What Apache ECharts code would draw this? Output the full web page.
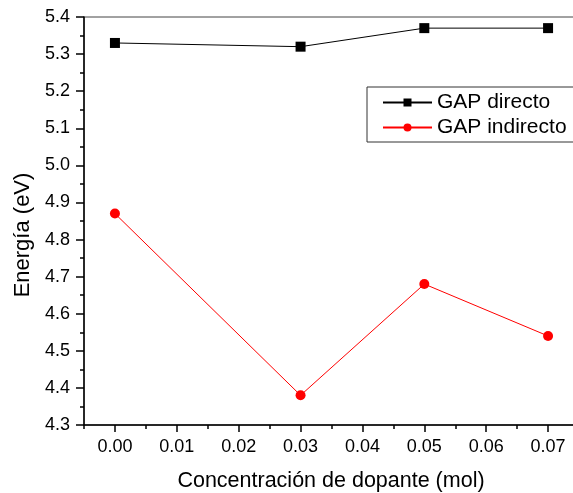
<!DOCTYPE html>
<html>
<head>
<meta charset="utf-8">
<script src="https://cdn.jsdelivr.net/npm/echarts@6/dist/echarts.min.js"></script>
<style>
  html, body { margin: 0; padding: 0; background: #fff; }
  #chart { width: 573px; height: 493px; }
</style>
</head>
<body>
<div id="chart"></div>
<script>
// Dopant concentration (mol) and band-gap energies (eV)
const concentracion = [0.00, 0.03, 0.05, 0.07];
const gapDirecto = [5.33, 5.32, 5.37, 5.37];
const gapIndirecto = [4.87, 4.38, 4.68, 4.54];
const seriesNames = ['GAP directo', 'GAP indirecto'];

const FONT = 'Arial, "Liberation Sans", sans-serif';

const toPairs = (xs, ys) => xs.map((x, i) => [x, ys[i]]);

const chart = echarts.init(document.getElementById('chart'), null, { renderer: 'canvas' });

chart.setOption({
  backgroundColor: '#ffffff',
  animation: false,
  grid: [
    // main plotting area (right edge runs past the canvas)
    { left: 84, top: 17, bottom: 68, width: 495, outerBoundsMode: 'none', containLabel: false,
      show: true, borderColor: '#444', borderWidth: 1, backgroundColor: 'transparent' },
    // overlay carrying the labelled major ticks of the concentration axis
    { left: 115, top: 17, bottom: 68, width: 433, outerBoundsMode: 'none', containLabel: false, show: false }
  ],
  legend: {
    orient: 'vertical',
    left: 367,
    top: 87,
    padding: [5, 30, 4, 15],
    itemGap: 4,
    itemWidth: 49,
    itemHeight: 10,
    borderColor: '#333',
    borderWidth: 1,
    backgroundColor: '#fff',
    textStyle: { fontFamily: FONT, fontSize: 21, color: '#000' },
    data: seriesNames
  },
  xAxis: [
    {
      type: 'value',
      gridIndex: 0,
      min: -0.005,
      max: 0.075,
      interval: 0.005,
      axisLine: { show: true, onZero: false, lineStyle: { color: '#000', width: 1.5 } },
      axisTick: { show: true, inside: false, length: 4, lineStyle: { color: '#000', width: 1.5 } },
      axisLabel: { show: false },
      splitLine: { show: false }
    },
    {
      type: 'value',
      gridIndex: 1,
      min: 0,
      max: 0.07,
      interval: 0.01,
      axisLine: { show: false },
      axisTick: { show: true, inside: false, length: 7, lineStyle: { color: '#000', width: 1.5 } },
      axisLabel: {
        show: true,
        margin: 13,
        fontFamily: FONT,
        fontSize: 18,
        color: '#000',
        formatter: v => v.toFixed(2)
      },
      splitLine: { show: false }
    }
  ],
  yAxis: [
    {
      type: 'value',
      gridIndex: 0,
      min: 4.3,
      max: 5.4,
      interval: 0.1,
      axisLine: { show: true, onZero: false, lineStyle: { color: '#000', width: 1.5 } },
      axisTick: { show: true, inside: false, length: 8, lineStyle: { color: '#000', width: 1.5 } },
      minorTick: { show: true, splitNumber: 2, length: 4, lineStyle: { color: '#000', width: 1.5 } },
      axisLabel: {
        margin: 14,
        fontFamily: FONT,
        fontSize: 18,
        color: '#000',
        formatter: v => v.toFixed(1)
      },
      splitLine: { show: false }
    },
    { type: 'value', gridIndex: 1, min: 4.3, max: 5.4, show: false }
  ],
  graphic: [
    {
      type: 'text',
      x: 23,
      y: 235,
      rotation: Math.PI / 2,
      style: {
        text: 'Energía (eV)',
        font: '22px ' + FONT,
        fill: '#000',
        align: 'center',
        verticalAlign: 'middle'
      }
    },
    {
      type: 'text',
      x: 331,
      y: 481,
      style: {
        text: 'Concentración de dopante (mol)',
        font: '21.5px ' + FONT,
        fill: '#000',
        align: 'center',
        verticalAlign: 'middle'
      }
    }
  ],
  series: [
    {
      name: seriesNames[0],
      type: 'line',
      xAxisIndex: 0,
      yAxisIndex: 0,
      data: toPairs(concentracion, gapDirecto),
      symbol: 'rect',
      symbolSize: 10,
      color: '#000000',
      lineStyle: { color: '#000000', width: 1 },
      itemStyle: { color: '#000000' }
    },
    {
      name: seriesNames[1],
      type: 'line',
      xAxisIndex: 0,
      yAxisIndex: 0,
      data: toPairs(concentracion, gapIndirecto),
      symbol: 'circle',
      symbolSize: 10,
      color: '#ff0000',
      lineStyle: { color: '#ff0000', width: 1 },
      itemStyle: { color: '#ff0000' }
    }
  ]
});
</script>
</body>
</html>
